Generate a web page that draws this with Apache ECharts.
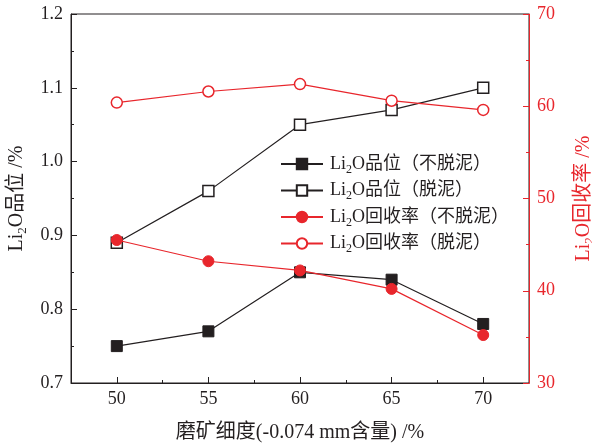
<!DOCTYPE html>
<html>
<head>
<meta charset="utf-8">
<script src="https://cdn.jsdelivr.net/npm/echarts@6/dist/echarts.min.js"></script>
<style>
  html, body { margin: 0; padding: 0; background: #fff; }
  #chart { width: 592px; height: 446px; }
</style>
</head>
<body>
<div id="chart"></div>
<script>
// grinding fineness (-0.074 mm content, %)
const fineness = [50, 55, 60, 65, 70];
const minorTicks = [52.5, 57.5, 62.5, 67.5];
// Li2O grade, %
const gradeNoDeslime = [0.75, 0.77, 0.85, 0.84, 0.78];
const gradeDeslime = [0.89, 0.96, 1.05, 1.07, 1.10];
// Li2O recovery, %
const recoveryNoDeslime = [45.5, 43.2, 42.2, 40.2, 35.2];
const recoveryDeslime = [60.4, 61.6, 62.4, 60.6, 59.6];

const seriesNames = ['Li2O品位（不脱泥）', 'Li2O品位（脱泥）', 'Li2O回收率（不脱泥）', 'Li2O回收率（脱泥）'];

const BLACK = '#231f20';
const RED = '#e8262c';
const FONT = "'Liberation Serif', 'Noto Sans CJK SC', serif";

let chart = null;

function pairs(ys) {
    return fineness.map((x, i) => [x, ys[i]]);
}

function subName(text) {
    // Li2O -> Li{sub 2}O
    const rest = text.replace('Li2O', '');
    return '{a|Li}{s|2}{a|O' + rest + '}';
}

function richStyle(color, size) {
    return {
        a: { fontFamily: FONT, fontSize: size, color: color },
        s: { fontFamily: FONT, fontSize: Math.round(size * 0.65), color: color, padding: [Math.round(size * 0.6), 0, 0, 0] }
    };
}

function lineSeries(name, data, yIndex, color, symbol, filled) {
    return {
        name: name,
        type: 'line',
        yAxisIndex: yIndex,
        data: pairs(data),
        symbol: symbol,
        symbolSize: 11,
        showSymbol: true,
        lineStyle: { color: color, width: 1.2 },
        itemStyle: filled
            ? { color: color, borderColor: color, borderWidth: 1 }
            : { color: '#fff', borderColor: color, borderWidth: 1.5 },
        z: filled ? 3 : 2
    };
}

function showChart() {
    chart = echarts.init(document.getElementById('chart'));
    const options = {
        animation: false,
        backgroundColor: '#fff',
        grid: {
            left: 71, right: 63, top: 14, bottom: 63,
            outerBoundsMode: 'none',
            containLabel: false,
            show: true, borderColor: BLACK, borderWidth: 1
        },
        legend: {
            orient: 'vertical',
            left: 275,
            top: 150,
            itemWidth: 42,
            itemHeight: 13,
            itemGap: 6,
            data: seriesNames,
            formatter: name => subName(name),
            textStyle: { rich: richStyle(BLACK, 18), padding: [0, 0, 0, 2] }
        },
        xAxis: [
            {
                type: 'value',
                min: 47.5, max: 72.5, interval: 2.5,
                name: '磨矿细度(-0.074 mm含量) /%',
                nameLocation: 'middle',
                nameGap: 40,
                nameTextStyle: { fontFamily: FONT, fontSize: 20, color: BLACK },
                axisLine: { lineStyle: { color: BLACK, width: 1 } },
                axisTick: { inside: true, length: 6, customValues: fineness, lineStyle: { color: BLACK } },
                axisLabel: {
                    customValues: fineness,
                    fontFamily: FONT, fontSize: 18, color: BLACK, margin: 7
                },
                splitLine: { show: false }
            },
            {
                type: 'value',
                position: 'bottom',
                min: 47.5, max: 72.5, interval: 2.5,
                axisLine: { show: false },
                axisTick: { inside: true, length: 3, customValues: minorTicks, lineStyle: { color: BLACK } },
                axisLabel: { show: false },
                splitLine: { show: false }
            }
        ],
        yAxis: [
            {
                type: 'value',
                min: 0.7, max: 1.2, interval: 0.1,
                name: subName('Li2O品位 /%'),
                nameLocation: 'middle',
                nameRotate: 90,
                nameGap: 42,
                nameTextStyle: { rich: richStyle(BLACK, 20) },
                axisLine: { show: true, lineStyle: { color: BLACK, width: 1 } },
                axisTick: { inside: true, length: 6, lineStyle: { color: BLACK } },
                minorTick: { show: true, splitNumber: 2, length: 3, lineStyle: { color: BLACK } },
                axisLabel: {
                    fontFamily: FONT, fontSize: 18, color: BLACK, margin: 8,
                    formatter: v => v.toFixed(1)
                },
                splitLine: { show: false }
            },
            {
                type: 'value',
                position: 'right',
                min: 30, max: 70, interval: 10,
                name: subName('Li2O回收率 /%'),
                nameLocation: 'middle',
                nameRotate: 90,
                nameGap: 42,
                nameTextStyle: { rich: richStyle(RED, 20) },
                axisLine: { show: true, lineStyle: { color: RED, width: 1 } },
                axisTick: { inside: true, length: 6, lineStyle: { color: RED } },
                minorTick: { show: true, splitNumber: 2, length: 3, lineStyle: { color: RED } },
                axisLabel: { fontFamily: FONT, fontSize: 18, color: RED, margin: 8 },
                splitLine: { show: false }
            }
        ],
        series: [
            lineSeries(seriesNames[0], gradeNoDeslime, 0, BLACK, 'rect', true),
            lineSeries(seriesNames[1], gradeDeslime, 0, BLACK, 'rect', false),
            lineSeries(seriesNames[2], recoveryNoDeslime, 1, RED, 'circle', true),
            lineSeries(seriesNames[3], recoveryDeslime, 1, RED, 'circle', false)
        ]
    };
    chart.setOption(options);
}

showChart();
</script>
</body>
</html>
